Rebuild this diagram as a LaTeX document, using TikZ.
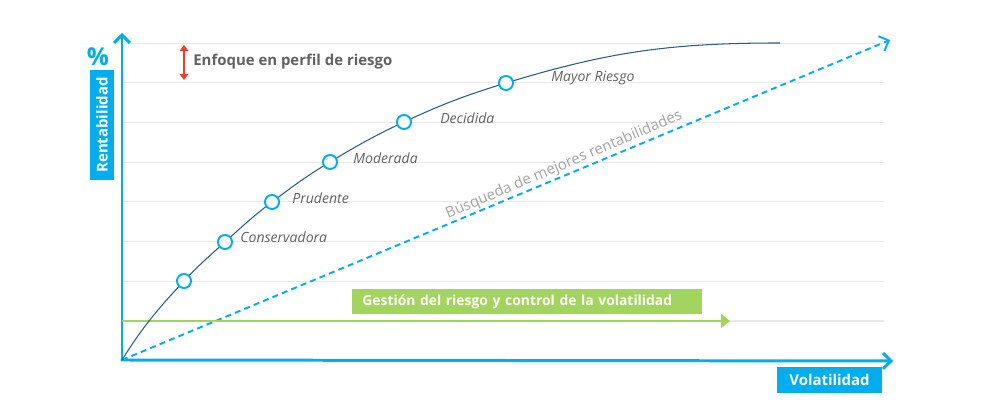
\documentclass[tikz,border=0pt]{standalone}
\usepackage{fontspec}
\setmainfont{Open Sans}
\usetikzlibrary{arrows.meta}
\definecolor{axiscyan}{HTML}{00AEEF}
\definecolor{curveblue}{HTML}{2A5D8A}
\definecolor{labelgray}{HTML}{626262}
\definecolor{lightgray}{HTML}{A3A3A3}
\definecolor{gridgray}{HTML}{E8E8E8}
\definecolor{riskgreen}{HTML}{A2D45E}
\definecolor{focusred}{HTML}{E8412C}
\tikzset{
  axisline/.style={draw=axiscyan, line width=1.7pt, -{Straight Barb[length=4.5pt,width=9pt]}},
  gridline/.style={draw=gridgray, line width=0.6pt},
  riskcurve/.style={draw=curveblue, line width=0.6pt},
  searchline/.style={draw=axiscyan, line width=1.1pt, dash pattern=on 3.4pt off 2.4pt, -{Straight Barb[length=4.5pt,width=9pt]}},
  greenline/.style={draw=riskgreen, line width=1.7pt, -{Triangle[length=5pt,width=8pt]}},
  profilept/.style={circle, draw=axiscyan, fill=white, line width=1.1pt, inner sep=0pt, minimum size=8pt},
  profilelabel/.style={anchor=west, inner sep=0pt, text=labelgray, font=\itshape\fontsize{8}{9}\selectfont},
  tagbox/.style={text=white, font=\bfseries\fontsize{8.5}{10}\selectfont, inner sep=0pt},
}
\begin{document}
\begin{tikzpicture}[x=0.02cm, y=0.02cm]
\useasboundingbox (0,0) rectangle (1000,418);
% grid
\foreach \gy in {97,136.7,176.4,216.1,255.8,295.5,335.2,374.9}
  \draw[gridline] (122,\gy) -- (884,\gy);

% axes
\path (122,58) coordinate (origin);
\path (122,385) coordinate (ytop);
\path (893,57) coordinate (xend);
\draw[axisline] (origin) -- (ytop);
\draw[axisline] ([xshift=-0.85pt]origin) -- (xend);
\path (98,361) node[text=axiscyan, font=\bfseries\fontsize{14}{16}\selectfont] (pct){\%};
\path (102,293) node[tagbox, fill=axiscyan, rotate=90, minimum width=2.2cm, minimum height=0.5cm] (rent){Rentabilidad};
\path (829.5,38) node[tagbox, fill=axiscyan, minimum width=2.1cm, minimum height=0.52cm] (vol){Volatilidad};

% focus arrow
\path (184,373) coordinate (focustop);
\path (184,338) coordinate (focusbot);
\draw[focusred, line width=1.1pt, {Triangle[length=3.5pt,width=5pt]}-{Triangle[length=3.5pt,width=5pt]}] (focustop) -- (focusbot);
\path (193,356) node[anchor=west, inner sep=0pt, text=labelgray, font=\bfseries\fontsize{8.5}{10}\selectfont] (focus){Enfoque en perfil de riesgo};

% search line
\path (890,378) coordinate (searchend);
\draw[searchline] (origin) -- (searchend);
\path (564,253) node[rotate=23, text=lightgray, font=\fontsize{8.5}{10}\selectfont] (search){Búsqueda de mejores rentabilidades};

% green line
\path (730,97) coordinate (greenend);
\draw[greenline] (origin |- greenend) -- (greenend);
\path (352,116.5) node[tagbox, anchor=west, fill=riskgreen, text width=6.6cm, align=left, inner xsep=0.2cm, minimum height=0.5cm, font=\bfseries\fontsize{7.9}{10}\selectfont] (gestion){Gestión del riesgo y control de la volatilidad};

% curve
\path (184,137) coordinate (c1);
\path (225,176) coordinate (c2);
\path (272,216) coordinate (c3);
\path (330,256) coordinate (c4);
\path (404,296) coordinate (c5);
\path (506,335) coordinate (c6);
\path (780,375) coordinate (curveend);
\draw[riskcurve] (origin) to[out=58,in=227] (c1) to[out=47,in=222] (c2) to[out=42,in=217] (c3)
  to[out=37,in=211] (c4) to[out=31,in=205] (c5) to[out=25,in=197] (c6) to[out=17,in=180] (curveend);

% points
\path (c1) node[profilept] (p1){};
\path (c2) node[profilept] (p2){};
\path (c3) node[profilept] (p3){};
\path (c4) node[profilept] (p4){};
\path (c5) node[profilept] (p5){};
\path (c6) node[profilept] (p6){};
\path (240,181) node[profilelabel] (cons){Conservadora};
\path (292,220) node[profilelabel] (prud){Prudente};
\path (353,260) node[profilelabel] (mod){Moderada};
\path (440,300) node[profilelabel] (dec){Decidida};
\path (551,340) node[profilelabel] (mayor){Mayor Riesgo};
\end{tikzpicture}
\end{document}
